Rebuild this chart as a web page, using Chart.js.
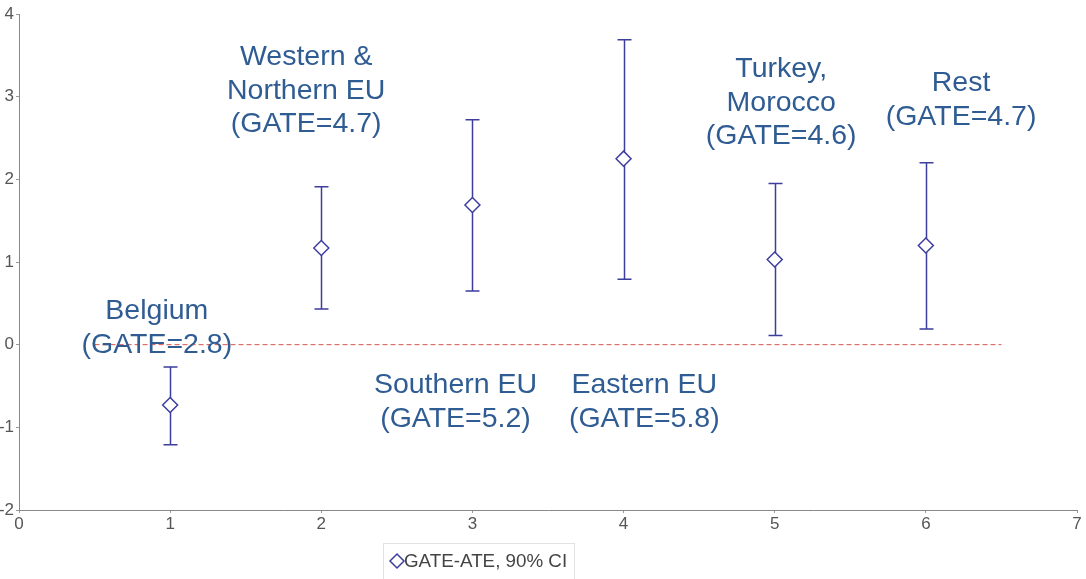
<!DOCTYPE html>
<html>
<head>
<meta charset="utf-8">
<script src="https://cdn.jsdelivr.net/npm/chart.js@4/dist/chart.umd.min.js"></script>
<style>
  body { margin: 0; background: #fff; }
</style>
</head>
<body>
<canvas id="myChart" width="1086" height="579"></canvas>
<script>
// data
var groups = [1, 2, 3, 4, 5, 6];
var estimates = [-0.73, 1.17, 1.69, 2.25, 1.03, 1.20];
var lowerCI = [-1.21, 0.43, 0.65, 0.79, 0.11, 0.19];
var upperCI = [-0.27, 1.91, 2.72, 3.69, 1.95, 2.20];
var groupLabels = [
    ['Belgium', '(GATE=2.8)'],
    ['Western &', 'Northern EU', '(GATE=4.7)'],
    ['Southern EU', '(GATE=5.2)'],
    ['Eastern EU', '(GATE=5.8)'],
    ['Turkey,', 'Morocco', '(GATE=4.6)'],
    ['Rest', '(GATE=4.7)']
];
// where each label block sits, in axis units (centre of block)
var labelX = [0.912, 1.900, 2.888, 4.137, 5.043, 6.233];
var labelY = [0.224, 3.097, -0.671, -0.671, 2.951, 2.982];
var refLineX = [0.5, 6.5];
var refLineY = 0;
var legendText = 'GATE-ATE, 90% CI';

var markColor = '#3d3d9e';
var tickFont = { size: 17, family: '"Liberation Sans", Arial, sans-serif' };

var errorBars = {
    id: 'errorBars',
    beforeDatasetsDraw: function(chart) {
        var ctx = chart.ctx, xs = chart.scales.x, ys = chart.scales.y;
        ctx.save();
        ctx.strokeStyle = markColor;
        ctx.lineWidth = 1.5;
        groups.forEach(function(g, i) {
            var px = Math.round(xs.getPixelForValue(g)) + 0.5;
            var top = ys.getPixelForValue(upperCI[i]);
            var bot = ys.getPixelForValue(lowerCI[i]);
            ctx.beginPath();
            ctx.moveTo(px, top); ctx.lineTo(px, bot);
            ctx.moveTo(px - 7, top); ctx.lineTo(px + 7, top);
            ctx.moveTo(px - 7, bot); ctx.lineTo(px + 7, bot);
            ctx.stroke();
        });
        ctx.restore();
    }
};

var groupText = {
    id: 'groupText',
    afterDraw: function(chart) {
        var ctx = chart.ctx, xs = chart.scales.x, ys = chart.scales.y;
        var lh = 33.5;
        ctx.save();
        ctx.font = '28.5px "Liberation Sans", Arial, sans-serif';
        ctx.fillStyle = '#2f5c93';
        ctx.textAlign = 'center';
        ctx.textBaseline = 'alphabetic';
        groupLabels.forEach(function(lines, i) {
            var cx = xs.getPixelForValue(labelX[i]);
            var cy = ys.getPixelForValue(labelY[i]);
            lines.forEach(function(t, j) {
                var mid = cy + (j - (lines.length - 1) / 2) * lh;
                ctx.fillText(t, cx, mid + 10);
            });
        });

        // legend box under the plot
        var bx = 383, by = 543, bw = 191, bh = 40;
        ctx.strokeStyle = '#e2e2e2';
        ctx.lineWidth = 1;
        ctx.strokeRect(bx + 0.5, by + 0.5, bw, bh);
        var dx = 397, dy = 561, r = 7;
        ctx.strokeStyle = markColor;
        ctx.lineWidth = 1.5;
        ctx.beginPath();
        ctx.moveTo(dx - r, dy); ctx.lineTo(dx, dy - r);
        ctx.lineTo(dx + r, dy); ctx.lineTo(dx, dy + r);
        ctx.closePath();
        ctx.stroke();
        ctx.font = '18.8px "Liberation Sans", Arial, sans-serif';
        ctx.fillStyle = '#444';
        ctx.textAlign = 'left';
        ctx.textBaseline = 'middle';
        ctx.fillText(legendText, 404, dy + 1);
        ctx.restore();
    }
};

var ctx = document.getElementById('myChart').getContext('2d');
var myChart = new Chart(ctx, {
    type: 'scatter',
    data: {
        datasets: [{
            label: legendText,
            data: groups.map(function(g, i) { return { x: g, y: estimates[i] }; }),
            pointStyle: 'rectRot',
            pointRadius: 7.5,
            pointHoverRadius: 7.5,
            borderColor: markColor,
            backgroundColor: '#ffffff',
            borderWidth: 1.5
        }, {
            type: 'line',
            label: 'zero',
            data: refLineX.map(function(x) { return { x: x, y: refLineY }; }),
            borderColor: '#d9534f',
            borderWidth: 1,
            borderDash: [5, 3],
            pointRadius: 0,
            fill: false
        }]
    },
    plugins: [errorBars, groupText],
    options: {
        responsive: false,
        animation: false,
        layout: { padding: { left: 0, right: 8, top: 14, bottom: 0 } },
        plugins: {
            legend: { display: false },
            tooltip: { enabled: false }
        },
        scales: {
            x: {
                type: 'linear',
                min: 0, max: 7,
                afterFit: function(scale) { scale.height = 69; },
                ticks: { stepSize: 1, color: '#555', padding: 1, font: tickFont },
                grid: { drawOnChartArea: false, tickLength: 3, color: '#999' },
                border: { color: '#888' }
            },
            y: {
                min: -2, max: 4,
                afterFit: function(scale) { scale.width = 19; },
                ticks: { stepSize: 1, color: '#555', padding: 2, font: tickFont },
                grid: { drawOnChartArea: false, tickLength: 3, color: '#999' },
                border: { color: '#888' }
            }
        }
    }
});
</script>
</body>
</html>
